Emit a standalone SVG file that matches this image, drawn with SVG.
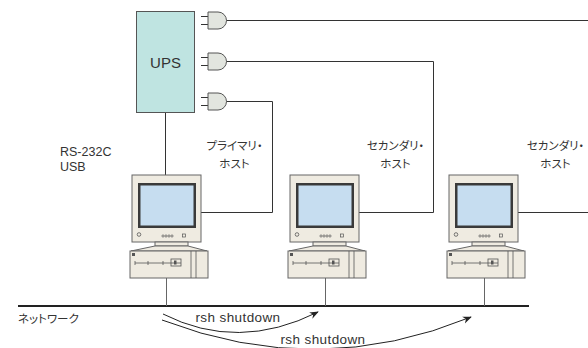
<svg xmlns="http://www.w3.org/2000/svg" xmlns:xlink="http://www.w3.org/1999/xlink" width="588" height="348" viewBox="0 0 588 348">
  <style>
    .wire { fill: none; stroke: #333; stroke-width: 1; }
    .net { fill: none; stroke: #222; stroke-width: 2; }
    .drop { fill: none; stroke: #666; stroke-width: 1; }
    .flow { fill: none; stroke: #222; stroke-width: 1; }
    .lbl { font-family: "Liberation Sans", Arial, sans-serif; font-size: 12.5px; fill: #333; }
    .big { font-size: 15px; }
    .cmd { font-family: "Liberation Sans", Arial, sans-serif; font-size: 13.5px; fill: #333; letter-spacing: 0.4px; }
    .jp { font-family: "Noto Sans CJK JP", "Liberation Sans", sans-serif; font-size: 11.5px; fill: #333; font-feature-settings: "palt"; }
    .plug { fill: #e2e5df; stroke: #555; stroke-width: 1; }
    .case { fill: #efebe1; stroke: #666; stroke-width: 1; }
  </style>
  <defs>
    <marker id="head" viewBox="0 0 10 10" refX="9" refY="5" markerWidth="9" markerHeight="9" orient="auto" markerUnits="userSpaceOnUse">
      <path d="M0,1 L10,5 L0,9 L3,5 Z" fill="#222"/>
    </marker>
    <!-- outlet plug: prongs plus D-shaped body, centred on y=0 -->
    <g id="plug">
      <path d="M0,-4 H7 M0,4 H7" class="wire" stroke="#555"/>
      <path d="M7,-8.5 H17 A8.5,8.5 0 0 1 17,8.5 H7 Z" class="plug"/>
    </g>
    <!-- desktop computer: monitor on a base unit -->
    <g id="pc">
      <rect x="0" y="0" width="69" height="67" class="case"/>
      <rect x="6" y="8" width="58" height="45" fill="#3a3a3a"/>
      <rect x="8.5" y="10.5" width="53" height="40" fill="#c6ddf0"/>
      <circle cx="7" cy="59.5" r="1.8" fill="none" stroke="#555" stroke-width="0.8"/>
      <g fill="none" stroke="#555" stroke-width="0.7">
        <circle cx="31" cy="61" r="1.1"/>
        <circle cx="34" cy="61" r="1.1"/>
        <circle cx="37" cy="61" r="1.1"/>
        <circle cx="40" cy="61" r="1.1"/>
        <rect x="50.5" y="59" width="3" height="3"/>
      </g>
      <rect x="23" y="67" width="33" height="4" class="case"/>
      <path d="M23,71 H56 L75,76 H-1 Z" class="case"/>
      <rect x="-2" y="76" width="78" height="27" class="case"/>
      <path d="M0,78 H3 V81 H0 Z" fill="#555"/>
      <path d="M3,88 H49 M3,86 V90 M16,86 V90 M31,86 V90 M59,76 V103 M64,76 V103" fill="none" stroke="#555" stroke-width="0.8"/>
      <rect x="39" y="84" width="10" height="7" fill="none" stroke="#555" stroke-width="0.8"/>
      <rect x="42" y="85.5" width="2.5" height="4" fill="#555"/>
    </g>
  </defs>

  <!-- connectors -->
  <g id="connectors">
    <!-- serial/USB link from the UPS to the primary host -->
    <path d="M165.5,112 V175" class="wire" stroke="#222" stroke-width="1.5"/>
    <!-- power feeds -->
    <path d="M226,20.5 H588" class="wire"/>
    <path d="M226,61.5 H433.5 V212.5 H359" class="wire"/>
    <path d="M226,101.5 H272.5 V212.5 H201" class="wire"/>
    <path d="M518,212.5 H588" class="wire"/>
    <!-- network -->
    <path d="M18,306 H529" class="net"/>
    <path d="M166.5,278 V306 M325.5,278 V306 M484.5,278 V306" class="drop"/>
    <!-- rsh shutdown commands -->
    <path d="M163,314 Q238,352 318,312" class="flow" marker-end="url(#head)"/>
    <path d="M162,320 Q318,380 471,317" class="flow" marker-end="url(#head)"/>
  </g>

  <g id="ups">
    <rect x="136.5" y="11.5" width="58" height="101" fill="#bfe4e1" stroke="#555"/>
    <text x="165.5" y="67.5" class="lbl big" text-anchor="middle">UPS</text>
    <use xlink:href="#plug" x="201" y="20.5"/>
    <use xlink:href="#plug" x="201" y="61.5"/>
    <use xlink:href="#plug" x="201" y="101.5"/>
  </g>

  <g id="primary-host">
    <use xlink:href="#pc" x="132" y="175"/>
    <text class="jp" x="234.5" y="150" text-anchor="middle">プライマリ・</text>
    <text class="jp" x="234.5" y="168" text-anchor="middle">ホスト</text>
  </g>

  <g id="secondary-host-1">
    <use xlink:href="#pc" x="290" y="175"/>
    <text class="jp" x="395.5" y="150" text-anchor="middle">セカンダリ・</text>
    <text class="jp" x="395.5" y="168" text-anchor="middle">ホスト</text>
  </g>

  <g id="secondary-host-2">
    <use xlink:href="#pc" x="449" y="175"/>
    <text class="jp" x="555.5" y="150" text-anchor="middle">セカンダリ・</text>
    <text class="jp" x="555.5" y="168" text-anchor="middle">ホスト</text>
  </g>

  <g id="interface-label">
    <text class="lbl" x="60" y="156">RS-232C</text>
    <text class="lbl" x="60" y="171">USB</text>
  </g>

  <g id="network-label">
    <text class="jp" x="18" y="323">ネットワーク</text>
    <text class="cmd" x="238" y="322" text-anchor="middle">rsh shutdown</text>
    <text class="cmd" x="323" y="344" text-anchor="middle">rsh shutdown</text>
  </g>
</svg>
